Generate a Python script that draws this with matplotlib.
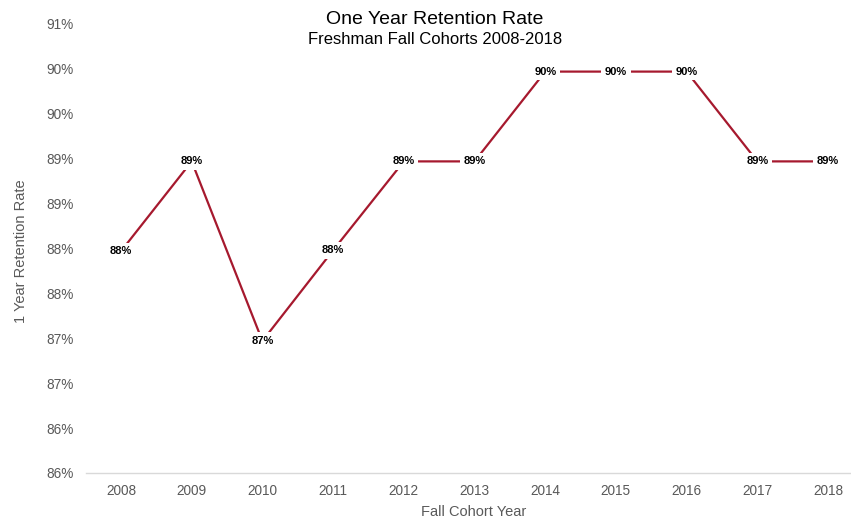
import matplotlib.pyplot as plt
from matplotlib.ticker import FuncFormatter

## data ##
years = ['2008', '2009', '2010', '2011', '2012', '2013', '2014', '2015', '2016', '2017', '2018']
retention = [0.8797, 0.8897, 0.8697, 0.8798, 0.8897, 0.8897, 0.8997, 0.8997, 0.8997, 0.8897, 0.8897]

plt.rcParams['font.family'] = ['Liberation Sans', 'DejaVu Sans']
line_color = '#A6192E'
gray = '#595959'

## figure ##
fig = plt.figure(figsize=(8.51, 5.19), dpi=100)
ax = fig.add_axes([86 / 851, 46 / 519, 1 - 86 / 851, 449 / 519])

x = list(range(len(years)))
ax.plot(x, retention, color=line_color, linewidth=1.6, zorder=2)

# value labels sit on top of the line, white box cuts the line
for xi, v in zip(x, retention):
    ax.text(xi, v, '{:.0f}%'.format(v * 100), ha='center', va='center',
            fontsize=8, fontweight='bold', color='black', zorder=3,
            bbox=dict(boxstyle='square,pad=0.32', fc='white', ec='none'))

ax.set_xlim(-0.495, 10.325)
ax.set_ylim(0.855, 0.905)
ax.set_xticks(x)
ax.set_xticklabels(years)
ax.set_yticks([0.855 + 0.005 * i for i in range(11)])
# excel style rounding: half goes up
ax.yaxis.set_major_formatter(FuncFormatter(lambda v, p: '{}%'.format(int(v * 100 + 0.5 + 1e-9))))

ax.tick_params(axis='both', length=0, labelsize=9.8, labelcolor=gray)
ax.tick_params(axis='x', pad=8)
ax.tick_params(axis='y', pad=9)
for side in ['top', 'right', 'left']:
    ax.spines[side].set_visible(False)
ax.spines['bottom'].set_color('#D9D9D9')
ax.spines['bottom'].set_linewidth(1)

fig.text(435 / 851, 1 - 19 / 519, 'One Year Retention Rate', ha='center', va='center', fontsize=14, color='black')
fig.text(435 / 851, 1 - 40 / 519, 'Freshman Fall Cohorts 2008-2018', ha='center', va='center', fontsize=12, color='black')
fig.text(474 / 851, 1 - 512 / 519, 'Fall Cohort Year', ha='center', va='center', fontsize=10.5, color=gray)
fig.text(21 / 851, 1 - 251 / 519, '1 Year Retention Rate', ha='center', va='center', rotation=90, fontsize=10.5, color=gray)

plt.savefig('out.png', dpi=100)
